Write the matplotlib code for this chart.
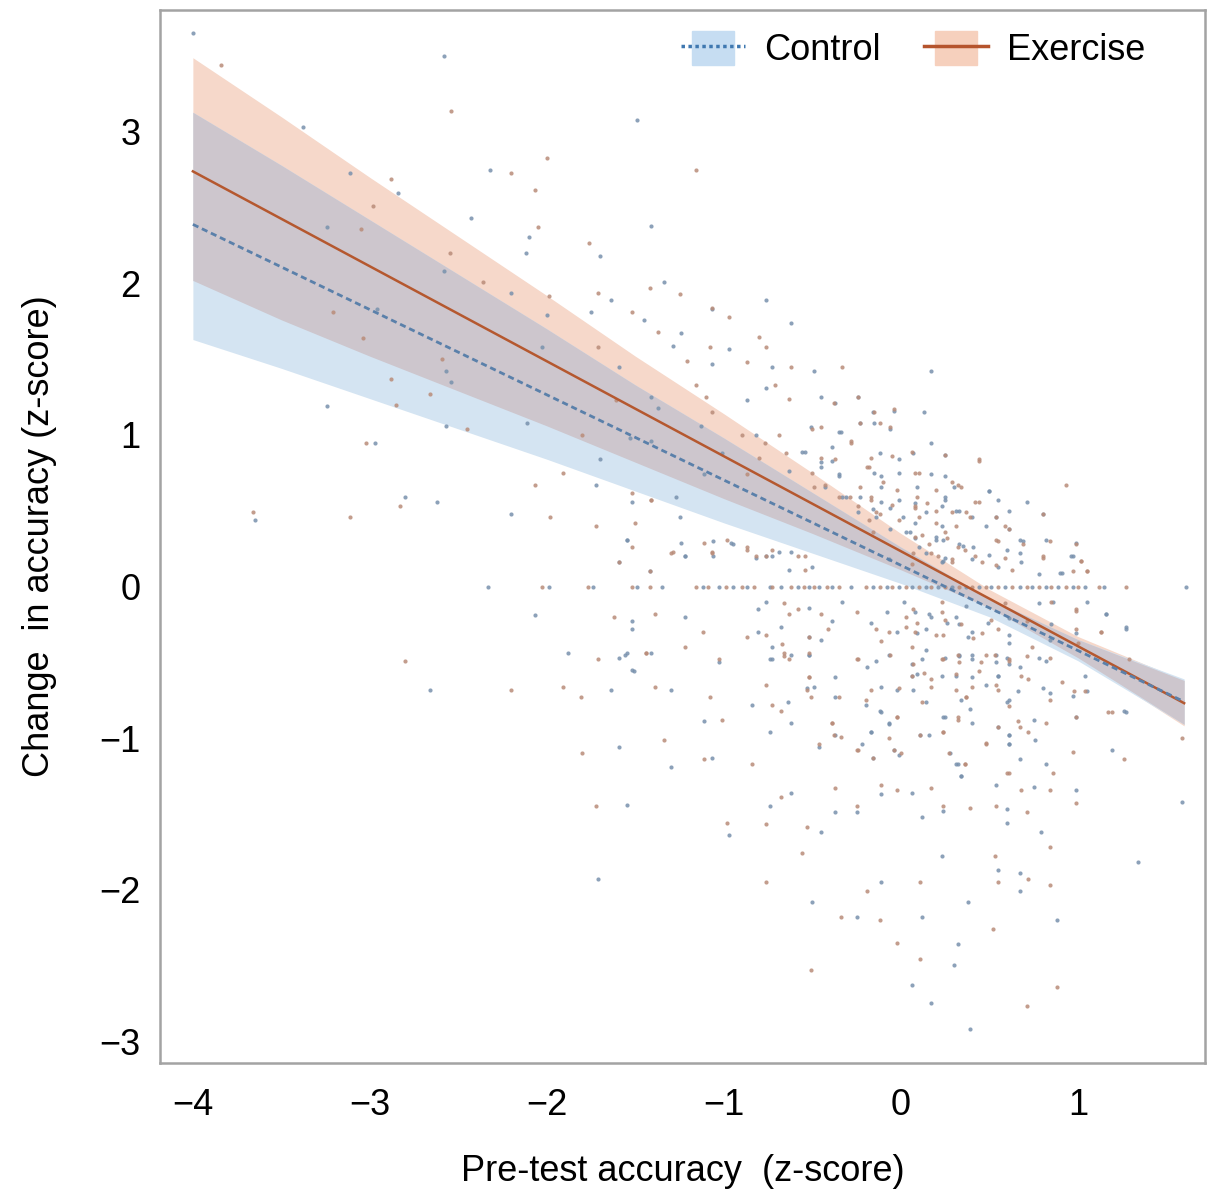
import matplotlib.pyplot as plt
import numpy as np
from matplotlib.patches import Patch, Rectangle
from matplotlib.lines import Line2D
from matplotlib.legend_handler import HandlerPatch

plt.rcParams['font.family'] = ['Liberation Sans', 'DejaVu Sans']

# fitted regression lines, read at both ends of the plotted range
line_x = [-4.0, 1.6]
exer_line = [2.74, -0.77]
ctrl_line = [2.39, -0.76]

# confidence bands at these x positions
band_x = [-4.0, -3.5, -3.0, -2.5, -2.0, -1.5, -1.0, -0.5, 0.0, 0.5, 1.0, 1.6]
exer_hi = [3.49, 3.10, 2.70, 2.31, 1.92, 1.52, 1.14, 0.75, 0.35, -0.02, -0.33, -0.62]
exer_lo = [2.02, 1.76, 1.52, 1.29, 1.06, 0.82, 0.58, 0.35, 0.11, -0.14, -0.47, -0.92]
ctrl_hi = [3.13, 2.78, 2.42, 2.06, 1.70, 1.33, 0.98, 0.62, 0.26, -0.08, -0.35, -0.61]
ctrl_lo = [1.63, 1.44, 1.24, 1.04, 0.84, 0.63, 0.42, 0.22, 0.02, -0.20, -0.49, -0.91]

# participants whose change score is exactly zero (the flat row)
ctrl_row_x = [-2.33, -1.99, -1.74, -1.49, -1.35, -1.12, -1.03, -0.95, -0.87, -0.74, -0.68, -0.58,
              -0.52, -0.46, -0.39, -0.28, -0.16, -0.08, -0.01, 0.06, 0.14, 0.21, 0.29, 0.37,
              0.44, 0.51, 0.59, 0.67, 0.74, 0.82, 0.89, 0.97, 1.04, 1.15, 1.61]
exer_row_x = [-2.03, -1.77, -1.52, -1.42, -1.16, -1.09, -0.99, -0.90, -0.83, -0.73, -0.62, -0.55,
              -0.49, -0.42, -0.35, -0.20, -0.12, -0.05, 0.03, 0.10, 0.17, 0.25, 0.33, 0.40,
              0.48, 0.55, 0.63, 0.71, 0.78, 0.85, 0.93, 1.00, 1.12, 1.27]

# individual points (pre-test z, change z)
ctrl_pts = [
    (-4.00, 3.65), (-2.58, 3.50), (-3.38, 3.03), (-2.32, 2.75), (-3.11, 2.73), (-2.84, 2.60),
    (-2.43, 2.43), (-2.10, 2.31), (-3.24, 2.37), (-2.12, 2.20), (-2.58, 2.08), (-2.20, 1.94),
    (-2.00, 1.79), (-2.96, 1.83), (-2.03, 1.58), (-2.57, 1.42), (-2.54, 1.35), (-3.24, 1.19),
    (-2.57, 1.06), (-2.11, 1.08), (-2.97, 0.95), (-2.80, 0.59), (-2.62, 0.56), (-3.65, 0.44),
    (-2.20, 0.48), (-2.07, -0.19), (-2.66, -0.68),
    (-1.49, 3.08), (-1.41, 2.38), (-1.70, 2.18), (-1.64, 1.89), (-1.34, 2.01), (-0.76, 1.89),
    (-1.75, 1.81), (-1.07, 1.83), (-1.45, 1.76), (-1.24, 1.67), (-0.62, 1.74), (-1.29, 1.59),
    (-0.97, 1.57), (-1.59, 1.45), (-1.07, 1.47), (-0.73, 1.45), (-0.49, 1.42), (0.17, 1.42),
    (-0.76, 1.31), (-1.41, 1.25), (-0.87, 1.23), (-0.45, 1.25), (-0.24, 1.25), (-1.37, 1.18),
    (-0.16, 1.15), (-1.13, 1.06), (-0.82, 1.00), (-0.51, 1.05), (-0.35, 1.02), (-0.15, 1.08),
    (0.17, 0.95), (-0.39, 0.92), (-0.56, 0.89), (-0.12, 0.88), (0.07, 0.88), (-1.01, 0.88),
    (-0.45, 0.82), (-0.63, 0.76), (-0.35, 0.74), (-0.15, 0.75), (-0.01, 0.75), (0.17, 0.74),
    (-1.11, 0.74), (-1.53, 0.98), (-1.70, 0.84), (-1.41, 0.96), (-1.72, 0.67), (-1.27, 0.59),
    (-0.33, 0.59), (-0.23, 0.59), (-0.11, 0.56), (0.08, 0.55), (0.23, 0.53), (-0.24, 0.49),
    (0.01, 0.46), (-0.06, 0.38), (0.05, 0.36), (0.20, 0.31), (0.10, 0.26), (0.25, 0.19),
    (-1.55, 0.31), (-1.22, 0.20), (-0.96, 0.29), (-0.76, 0.20), (-1.42, 0.10), (-0.69, 0.23),
    (-0.50, 0.13),
    (0.13, 1.15), (0.25, 0.73), (0.50, 0.63), (0.71, 0.56), (0.25, 0.57), (0.33, 0.50),
    (0.54, 0.46), (0.61, 0.38), (0.67, 0.31), (0.82, 0.31), (0.08, 0.32), (0.24, 0.31),
    (0.35, 0.27), (0.50, 0.21), (0.67, 0.22), (0.97, 0.20), (0.23, 0.16), (0.68, 0.16),
    (0.91, 0.09), (0.78, 0.08),
    (0.02, -0.10), (0.37, -0.13), (0.78, -0.11), (1.05, -0.10), (1.16, -0.18), (0.16, -0.18),
    (0.33, -0.25), (0.61, -0.21), (0.85, -0.25), (0.09, -0.31), (0.38, -0.33), (0.61, -0.37),
    (0.99, -0.31), (1.27, -0.27), (0.14, -0.42), (0.33, -0.46), (0.54, -0.50), (0.67, -0.53),
    (0.06, -0.59), (0.31, -0.59), (0.55, -0.59), (0.80, -0.67), (1.04, -0.59),
    (-1.88, -0.44), (-1.56, -0.45), (-1.51, -0.56), (-1.64, -0.68), (-1.30, -0.68), (-1.03, -0.50),
    (-0.74, -0.48), (-0.52, -0.45), (-0.53, -0.67), (-0.14, -0.49), (0.06, -0.51), (-0.84, -0.78),
    (-0.64, -0.76), (-0.37, -0.73), (-0.12, -0.82), (-1.11, -0.89), (-0.62, -0.90), (-0.07, -0.91),
    (-0.02, -0.68), (0.24, -0.86), (0.39, -0.81), (0.25, -0.47), (0.40, -0.48), (0.60, -0.47),
    (0.82, -0.49), (0.66, -0.69), (0.97, -0.72), (0.60, -0.76), (0.75, -0.88), (0.55, -0.93),
    (0.99, -0.86), (1.26, -0.82), (-0.74, -0.96), (-0.17, -0.96), (0.11, -0.98), (0.61, -0.98),
    (0.76, -1.01), (0.61, -1.04), (-0.46, -1.06), (-0.16, -1.13), (-0.01, -1.11), (1.19, -1.08),
    (1.59, -1.42), (-1.59, -1.06), (-1.30, -1.19), (-1.07, -1.13), (0.31, -1.17), (0.34, -1.25),
    (0.82, -1.17), (0.67, -1.14), (-1.55, -1.44), (-0.97, -1.64), (-0.74, -1.45), (-0.62, -1.36),
    (-0.45, -1.62), (-0.37, -1.49), (-0.25, -1.49), (-0.11, -1.37), (0.06, -1.36), (0.12, -1.52),
    (0.24, -1.48), (0.54, -1.31), (0.60, -1.47), (0.60, -1.56), (0.75, -1.32), (0.99, -1.34),
    (0.79, -1.62), (1.34, -1.82), (0.23, -1.78), (0.55, -1.87), (0.67, -1.89), (0.67, -2.01),
    (-1.71, -1.93), (-0.50, -2.08), (-0.11, -1.95), (0.38, -2.08), (-0.25, -2.18), (0.12, -2.18),
    (0.88, -2.20), (0.32, -2.36), (0.30, -2.50), (0.06, -2.63), (0.17, -2.75), (0.39, -2.92),
    (-0.37, 1.21), (-0.04, 1.16), (-0.23, 1.08), (-0.06, 1.04), (-0.34, 1.02), (-0.54, 0.89),
    (-0.39, 0.83), (-0.01, 0.84), (0.25, 0.87), (-0.45, 0.79), (-0.11, 0.73), (-0.35, 0.73),
    (-0.43, 0.66), (-0.11, 0.66), (0.09, 0.66), (0.30, 0.66), (0.50, 0.63), (-0.31, 0.59),
    (-0.01, 0.57), (0.25, 0.59), (0.55, 0.57), (-0.16, 0.51), (-0.06, 0.52), (0.14, 0.49),
    (0.31, 0.50), (0.40, 0.46), (0.61, 0.50), (-0.14, 0.46), (0.08, 0.42), (0.23, 0.40),
    (0.48, 0.40), (0.03, 0.36), (0.20, 0.33), (0.33, 0.28), (0.41, 0.26), (0.60, 0.24),
    (0.14, 0.22), (0.24, 0.17), (0.40, 0.18), (0.55, 0.13), (-0.07, 0.18),
    (-0.33, -0.10), (-0.39, -0.23), (-0.45, -0.35), (-0.52, -0.45), (-0.17, -0.24), (-0.08, -0.17),
    (-0.02, -0.30), (0.08, -0.17), (0.14, -0.28), (0.17, -0.20), (0.26, -0.24), (0.31, -0.20),
    (0.40, -0.30), (0.49, -0.24), (0.61, -0.32), (-0.07, -0.45), (-0.19, -0.53), (0.12, -0.48),
    (0.33, -0.45), (0.40, -0.45), (0.54, -0.45), (0.61, -0.51), (0.09, -0.58), (0.23, -0.59),
    (0.40, -0.60), (0.55, -0.59), (-0.37, -0.60), (-0.49, -0.66), (-0.20, -0.78), (-0.11, -0.66),
    (0.07, -0.68), (0.14, -0.76), (0.34, -0.75), (0.48, -0.65), (0.61, -0.75), (-0.11, -0.83),
    (0.25, -0.86), (-0.07, -0.90), (0.40, -0.90), (-0.37, -0.98), (-0.17, -0.96), (0.16, -0.98),
    (0.61, -0.98), (-0.22, -1.04), (0.61, -1.04), (-0.04, -1.08), (0.28, -1.10), (0.32, -1.17),
    (0.34, -1.25),
    (0.80, 0.48), (0.69, 0.30), (0.99, 0.29), (0.96, 0.20), (0.90, 0.09), (0.86, -0.10),
    (1.16, -0.18), (1.27, -0.28), (0.84, -0.35), (0.78, -0.47), (0.84, -0.70), (1.05, -0.69),
    (1.27, -0.83),
    (-1.52, 0.56), (-1.25, 0.46), (-1.55, 0.31), (-1.24, 0.29), (-1.06, 0.30), (-0.95, 0.28),
    (-1.22, 0.20), (-1.06, 0.20), (-0.82, 0.19), (-0.73, 0.20), (-0.62, 0.23), (-1.59, 0.16),
    (-0.63, 0.11), (-0.76, -0.10), (-0.81, -0.15), (-0.52, -0.14), (-1.52, -0.23), (-1.22, -0.20),
    (-1.52, -0.28), (-0.68, -0.27), (-0.81, -0.30), (-0.52, -0.33), (-0.73, -0.40), (-1.55, -0.44),
    (-1.41, -0.44), (-0.62, -0.45), (-1.59, -0.47), (-0.73, -0.48), (-1.52, -0.55),
]

exer_pts = [
    (-3.84, 3.44), (-2.54, 3.14), (-2.00, 2.83), (-2.20, 2.73), (-2.88, 2.69), (-2.07, 2.62),
    (-2.05, 2.37), (-2.98, 2.51), (-3.05, 2.36), (-2.55, 2.20), (-2.36, 2.01), (-1.99, 1.92),
    (-3.21, 1.81), (-3.04, 1.64), (-2.59, 1.50), (-2.88, 1.37), (-2.66, 1.27), (-2.85, 1.20),
    (-2.45, 1.04), (-3.02, 0.95), (-2.07, 0.67), (-2.83, 0.53), (-3.66, 0.49), (-3.11, 0.46),
    (-1.98, 0.46), (-2.80, -0.49), (-2.20, -0.68),
    (-1.16, 2.75), (-1.76, 2.27), (-1.71, 1.94), (-1.42, 1.97), (-1.25, 1.93), (-1.07, 1.84),
    (-1.52, 1.81), (-0.97, 1.78), (-1.37, 1.68), (-0.80, 1.65), (-1.71, 1.58), (-1.08, 1.58),
    (-0.76, 1.58), (-1.21, 1.49), (-0.87, 1.48), (-0.62, 1.45), (-0.33, 1.45), (-1.16, 1.33),
    (-0.71, 1.33), (-1.10, 1.25), (-0.63, 1.24), (-0.38, 1.21), (-1.61, 1.23), (-1.07, 1.15),
    (-0.04, 1.17), (-0.90, 1.00), (-0.69, 1.00), (-0.45, 1.05), (-0.23, 1.08), (-0.06, 1.05),
    (-0.28, 0.95), (-0.77, 0.95), (-0.65, 0.88), (-0.05, 0.86), (0.25, 0.87), (-0.80, 0.85),
    (-0.37, 0.84), (-0.50, 0.75), (-0.19, 0.79), (-0.10, 0.69), (0.10, 0.75), (0.29, 0.69),
    (-0.87, 0.74), (-1.80, 1.00), (-1.91, 0.75), (-1.52, 0.62), (-1.41, 0.57), (-0.43, 0.67),
    (-0.29, 0.59), (-0.17, 0.57), (-0.05, 0.54), (0.15, 0.55), (0.29, 0.49), (-0.14, 0.49),
    (0.10, 0.46), (-0.16, 0.36), (0.12, 0.34), (0.26, 0.32), (0.17, 0.22), (-1.72, 0.40),
    (-1.30, 0.22), (-1.07, 0.22), (-0.82, 0.20), (-1.59, 0.16), (-0.87, 0.26), (-0.58, 0.20),
    (0.44, 0.83), (0.32, 0.67), (0.93, 0.67), (0.44, 0.56), (0.08, 0.53), (0.39, 0.46),
    (0.80, 0.48), (0.54, 0.31), (0.69, 0.28), (0.99, 0.28), (0.16, 0.28), (0.32, 0.26),
    (0.42, 0.20), (0.59, 0.19), (0.80, 0.20), (0.29, 0.18), (0.54, 0.14), (1.02, 0.17),
    (0.97, 0.10), (1.05, 0.10),
    (0.23, -0.10), (0.59, -0.11), (0.85, -0.10), (0.99, -0.16), (0.07, -0.15), (0.25, -0.22),
    (0.51, -0.22), (0.71, -0.23), (0.03, -0.27), (0.20, -0.32), (0.46, -0.31), (0.74, -0.40),
    (1.13, -0.30), (0.06, -0.40), (0.23, -0.48), (0.48, -0.45), (0.61, -0.49), (0.84, -0.47),
    (0.17, -0.61), (0.40, -0.66), (0.68, -0.59), (0.91, -0.63), (1.29, -0.48),
    (-1.71, -0.48), (-1.44, -0.44), (-1.91, -0.66), (-1.39, -0.66), (-1.81, -0.73), (-1.08, -0.73),
    (-0.66, -0.46), (-0.76, -0.65), (-0.25, -0.48), (-0.06, -0.45), (-0.52, -0.60), (-0.73, -0.78),
    (-0.51, -0.73), (-0.20, -0.75), (-0.68, -0.82), (-1.01, -0.88), (-0.39, -0.90), (-0.02, -0.86),
    (0.12, -0.76), (0.32, -0.88), (0.37, -0.73), (0.32, -0.45), (0.53, -0.45), (0.71, -0.46),
    (0.54, -0.65), (0.84, -0.75), (1.04, -0.69), (0.66, -0.89), (0.82, -0.90), (0.67, -0.93),
    (1.19, -0.83), (1.59, -1.00), (-0.38, -0.98), (-0.07, -1.00), (0.24, -0.96), (0.72, -0.96),
    (0.48, -1.04), (0.27, -1.10), (-0.24, -1.08), (-0.04, -1.08), (0.97, -1.09), (1.26, -1.14),
    (-1.80, -1.10), (-1.34, -1.01), (-1.11, -1.14), (-0.84, -1.17), (0.36, -1.17), (0.61, -1.23),
    (0.86, -1.23), (-1.72, -1.45), (-0.98, -1.56), (-0.76, -1.57), (-0.68, -1.39), (-0.53, -1.59),
    (-0.37, -1.33), (-0.25, -1.45), (-0.11, -1.31), (-0.02, -1.34), (0.17, -1.33), (0.24, -1.45),
    (0.39, -1.46), (0.54, -1.45), (0.71, -1.49), (0.68, -1.34), (0.84, -1.34), (0.99, -1.43),
    (0.84, -1.72), (-0.56, -1.76), (0.53, -1.78), (0.55, -1.95), (0.72, -1.93), (0.84, -1.97),
    (-0.76, -1.95), (-0.19, -2.01), (0.11, -1.95), (-0.34, -2.18), (-0.12, -2.20), (0.52, -2.26),
    (-0.02, -2.35), (0.11, -2.46), (-0.51, -2.53), (0.88, -2.64), (0.71, -2.77),
    (-0.24, 1.25), (-0.15, 1.15), (-0.12, 1.08), (-0.50, 1.04), (-0.28, 0.96), (-0.45, 0.85),
    (-0.17, 0.85), (0.06, 0.89), (0.44, 0.84), (-0.18, 0.79), (0.08, 0.75), (-0.49, 0.66),
    (-0.23, 0.66), (-0.02, 0.64), (0.20, 0.64), (0.34, 0.66), (-0.35, 0.59), (-0.17, 0.59),
    (0.09, 0.59), (0.42, 0.56), (-0.24, 0.53), (-0.12, 0.48), (0.08, 0.52), (0.20, 0.50),
    (0.37, 0.49), (0.54, 0.46), (-0.18, 0.44), (-0.01, 0.44), (0.20, 0.42), (0.31, 0.40),
    (0.59, 0.40), (0.08, 0.33), (0.25, 0.36), (0.36, 0.24), (0.55, 0.30), (0.07, 0.22),
    (0.21, 0.20), (0.29, 0.16), (0.46, 0.16), (0.63, 0.11), (0.06, 0.15),
    (-0.45, -0.18), (-0.41, -0.28), (-0.52, -0.33), (-0.25, -0.17), (-0.14, -0.28), (-0.07, -0.30),
    (0.03, -0.20), (0.09, -0.24), (0.08, -0.30), (0.23, -0.17), (0.24, -0.32), (0.34, -0.25),
    (0.41, -0.34), (0.55, -0.28), (-0.11, -0.36), (-0.24, -0.48), (0.07, -0.51), (0.24, -0.48),
    (0.33, -0.50), (0.45, -0.50), (0.61, -0.48), (0.06, -0.59), (0.13, -0.57), (0.31, -0.58),
    (0.44, -0.56), (-0.52, -0.60), (-0.53, -0.68), (-0.35, -0.73), (-0.17, -0.68), (-0.01, -0.67),
    (0.17, -0.66), (0.31, -0.68), (0.37, -0.73), (0.55, -0.68), (0.61, -0.79), (-0.02, -0.86),
    (-0.39, -0.90), (0.32, -0.86), (0.55, -0.93), (-0.34, -0.99), (0.11, -0.98), (0.24, -0.96),
    (-0.46, -1.04), (0.48, -1.03), (-0.25, -1.08), (0.00, -1.10), (-0.16, -1.13), (0.36, -1.17),
    (0.60, -1.23),
    (0.61, 0.38), (0.84, 0.30), (0.80, 0.19), (1.02, 0.17), (1.05, 0.10), (0.99, -0.15),
    (1.13, -0.30), (0.99, -0.28), (1.00, -0.37), (0.72, -0.61), (0.98, -0.69), (1.17, -0.83),
    (0.99, -0.86),
    (-1.41, 0.57), (-1.50, 0.42), (-1.52, 0.26), (-1.11, 0.29), (-0.98, 0.31), (-1.29, 0.23),
    (-1.07, 0.23), (-0.87, 0.24), (-0.76, 0.20), (-0.73, 0.24), (-0.54, 0.20), (-1.42, 0.10),
    (-0.54, 0.11), (-0.66, -0.11), (-0.58, -0.15), (-1.62, -0.20), (-1.39, -0.18), (-0.63, -0.18),
    (-1.12, -0.30), (-0.87, -0.33), (-0.76, -0.32), (-1.22, -0.40), (-0.67, -0.38), (-1.44, -0.44),
    (-0.66, -0.44), (-0.52, -0.44), (-1.03, -0.48), (-0.63, -0.48),
]

ctrl_x = [p[0] for p in ctrl_pts] + ctrl_row_x
ctrl_y = [p[1] for p in ctrl_pts] + [0.0] * len(ctrl_row_x)
exer_x = [p[0] for p in exer_pts] + exer_row_x
exer_y = [p[1] for p in exer_pts] + [0.0] * len(exer_row_x)

fig = plt.figure(figsize=(12.09, 11.90), dpi=100)
ax = fig.add_axes([0.1323, 0.1067, 0.8644, 0.8849])

# bands: exercise, control, then the overlap in grey
ax.fill_between(band_x, exer_lo, exer_hi, color='#f6d8ca', lw=0, zorder=1)
ax.fill_between(band_x, ctrl_lo, ctrl_hi, color='#d4e4f2', lw=0, zorder=1)
ov_lo = np.maximum(exer_lo, ctrl_lo)
ov_hi = np.minimum(exer_hi, ctrl_hi)
ax.fill_between(band_x, ov_lo, ov_hi, where=ov_hi > ov_lo, interpolate=True,
                color='#cdc6cd', lw=0, zorder=1)

ax.scatter(ctrl_x, ctrl_y, s=9, color='#7891ad', lw=0, alpha=0.85, zorder=2)
ax.scatter(exer_x, exer_y, s=9, color='#b98c79', lw=0, alpha=0.85, zorder=2)

ax.plot(line_x, exer_line, color='#b5582f', lw=1.8, zorder=4)
ax.plot(line_x, ctrl_line, color='#5a80aa', lw=2.0, dashes=(2.2, 1.4), zorder=4)

ax.set_xlim(-4.186, 1.718)
ax.set_ylim(-3.145, 3.805)
ax.set_xticks([-4, -3, -2, -1, 0, 1])
ax.set_yticks([-3, -2, -1, 0, 1, 2, 3])
ax.tick_params(axis='both', length=0, labelsize=26)
ax.tick_params(axis='x', pad=18)
ax.tick_params(axis='y', pad=14)
for s in ax.spines.values():
    s.set_color('#a3a3a3')
    s.set_linewidth(1.8)

ax.set_xlabel('Pre-test accuracy  (z-score)', fontsize=26, labelpad=22)
ax.set_ylabel('Change  in accuracy (z-score)', fontsize=26, labelpad=30)


def narrow_patch(legend, orig_handle, xdescent, ydescent, width, height, fontsize):
    return Rectangle((-xdescent + 0.17 * width, -ydescent), 0.66 * width, height)


handles = [
    (Patch(color='#c6ddf2'), Line2D([], [], color='#3f78b0', ls=(0, (1, 1)), lw=2.5)),
    (Patch(color='#f6d0bd'), Line2D([], [], color='#b5542d', lw=2.5)),
]
ax.legend(handles, ['Control', 'Exercise'], handler_map={Patch: HandlerPatch(patch_func=narrow_patch)},
          loc='upper right', bbox_to_anchor=(0.957, 0.994), borderaxespad=0, ncol=2,
          frameon=False, fontsize=26, handlelength=1.75, handleheight=1.1,
          handletextpad=0.55, columnspacing=1.2)

fig.savefig('out.png', dpi=100)
